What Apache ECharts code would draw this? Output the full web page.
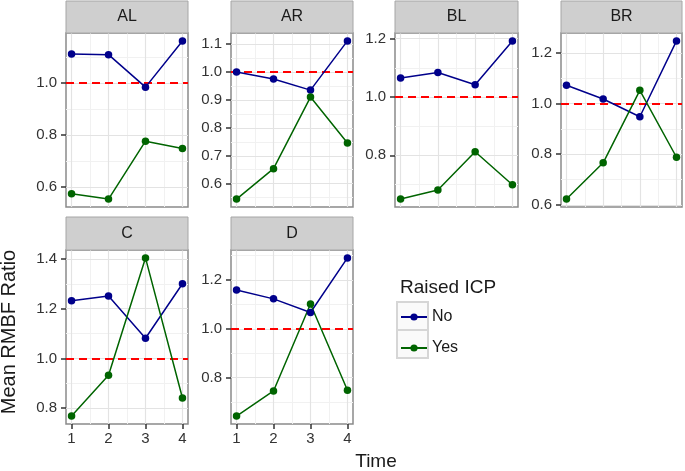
<!DOCTYPE html>
<html><head><meta charset="utf-8">
<script src="https://cdn.jsdelivr.net/npm/echarts@6/dist/echarts.min.js"></script>
<style>html,body{margin:0;padding:0;background:#fff}#c{width:685px;height:471px}</style>
</head><body><div id="c"></div>
<script>
// ---- data ----
const panels = ['AL', 'AR', 'BL', 'BR', 'C', 'D'];
const times = [1, 2, 3, 4];
const noAL = [1.113, 1.110, 0.985, 1.163];
const yesAL = [0.575, 0.554, 0.777, 0.749];
const noAR = [1.000, 0.975, 0.935, 1.111];
const yesAR = [0.545, 0.654, 0.910, 0.746];
const noBL = [1.065, 1.084, 1.042, 1.192];
const yesBL = [0.650, 0.681, 0.812, 0.699];
const noBR = [1.072, 1.018, 0.948, 1.247];
const yesBR = [0.623, 0.766, 1.052, 0.788];
const noC = [1.232, 1.251, 1.081, 1.300];
const yesC = [0.768, 0.932, 1.404, 0.841];
const noD = [1.159, 1.123, 1.067, 1.291];
const yesD = [0.642, 0.745, 1.102, 0.748];
const ticksAL = [0.6, 0.8, 1.0];
const ticksAR = [0.6, 0.7, 0.8, 0.9, 1.0, 1.1];
const ticksBL = [0.8, 1.0, 1.2];
const ticksBR = [0.6, 0.8, 1.0, 1.2];
const ticksC = [0.8, 1.0, 1.2, 1.4];
const ticksD = [0.8, 1.0, 1.2];
const xTicks = [1, 2, 3, 4];
const refLine = 1.0;
const groupNames = ['No', 'Yes'];

const noData = {AL: noAL, AR: noAR, BL: noBL, BR: noBR, C: noC, D: noD};
const yesData = {AL: yesAL, AR: yesAR, BL: yesBL, BR: yesBR, C: yesC, D: yesD};
const tickData = {AL: ticksAL, AR: ticksAR, BL: ticksBL, BR: ticksBR, C: ticksC, D: ticksD};

// ---- layout / style ----
const layout = {
  AL: {left: 66, top: 33, width: 122, height: 174, xlab: false, stripTop: 1},
  AR: {left: 231, top: 33, width: 122, height: 174, xlab: false, stripTop: 1},
  BL: {left: 395, top: 33, width: 123, height: 174, xlab: false, stripTop: 1},
  BR: {left: 561, top: 33, width: 121, height: 174, xlab: false, stripTop: 1},
  C: {left: 66, top: 250, width: 122, height: 174, xlab: true, stripTop: 217},
  D: {left: 231, top: 250, width: 122, height: 174, xlab: true, stripTop: 217}
};
const colNo = '#00008B', colYes = '#006400';
const tickFont = 15;
const FF = 'Liberation Sans, Arial, sans-serif';

function expand(vals) {
  const lo = Math.min(...vals), hi = Math.max(...vals), r = hi - lo;
  return [lo - 0.05 * r, hi + 0.05 * r];
}
function minorOf(t, lo, hi) {
  const step = t.length > 1 ? t[1] - t[0] : 0.2;
  const out = [];
  for (let k = -1; k < t.length; k++) {
    const v = (k < 0 ? t[0] - step / 2 : t[k] + step / 2);
    if (v > lo && v < hi) out.push(+v.toFixed(4));
  }
  return out;
}

const grids = [], xAxes = [], yAxes = [], series = [], graphics = [];
panels.forEach((p, i) => {
  const L = layout[p];
  const yr = expand(noData[p].concat(yesData[p]));
  const xr = expand(times);
  grids.push({left: L.left, top: L.top, width: L.width, height: L.height, show: true,
    borderColor: '#8a8a8a', borderWidth: 1.5, backgroundColor: '#fff', containLabel: false});
  xAxes.push({gridIndex: i, type: 'value', min: xr[0], max: xr[1],
    axisLine: {show: false},
    axisTick: {show: L.xlab, customValues: xTicks, length: 5, lineStyle: {color: '#333', width: 1.5}},
    axisLabel: {show: L.xlab, customValues: xTicks, fontSize: tickFont, color: '#333', margin: 7, fontFamily: FF},
    splitLine: {show: false}});
  yAxes.push({gridIndex: i, type: 'value', min: yr[0], max: yr[1],
    axisLine: {show: false},
    axisTick: {show: true, customValues: tickData[p], length: 5, lineStyle: {color: '#333', width: 1.5}},
    axisLabel: {customValues: tickData[p], formatter: v => v.toFixed(1), fontSize: tickFont, color: '#333', margin: 9, fontFamily: FF},
    splitLine: {show: false}});
  // grid lines
  const major = {color: '#e3e3e3', width: 1.2, type: 'solid'};
  const minor = {color: '#f1f1f1', width: 1, type: 'solid'};
  const gl = [];
  minorOf(xTicks, xr[0], xr[1]).forEach(v => gl.push({xAxis: v, lineStyle: minor}));
  minorOf(tickData[p], yr[0], yr[1]).forEach(v => gl.push({yAxis: v, lineStyle: minor}));
  xTicks.forEach(v => gl.push({xAxis: v, lineStyle: major}));
  tickData[p].forEach(v => gl.push({yAxis: v, lineStyle: major}));
  series.push({type: 'line', xAxisIndex: i, yAxisIndex: i, data: [], z: 1, silent: true,
    markLine: {z: 1, silent: true, symbol: ['none', 'none'], label: {show: false}, animation: false, data: gl}});
  series.push({type: 'line', xAxisIndex: i, yAxisIndex: i, data: [], z: 2, silent: true,
    markLine: {z: 2, silent: true, symbol: ['none', 'none'], label: {show: false}, animation: false,
      data: [{yAxis: refLine}], lineStyle: {color: '#ff0000', width: 2.2, type: [8, 5]}}});
  [[groupNames[0], noData[p], colNo], [groupNames[1], yesData[p], colYes]].forEach(([nm, vals, col]) => {
    series.push({type: 'line', name: nm, xAxisIndex: i, yAxisIndex: i, z: 3,
      data: times.map((t, k) => [t, vals[k]]),
      symbol: 'circle', symbolSize: 7.5, showSymbol: true,
      lineStyle: {color: col, width: 1.5}, itemStyle: {color: col, borderWidth: 0}, animation: false});
  });
  // strip
  graphics.push({type: 'rect', shape: {x: L.left, y: L.stripTop, width: L.width, height: L.top - L.stripTop},
    style: {fill: '#cfcfcf', stroke: '#a6a6a6', lineWidth: 1}, z: 10});
  graphics.push({type: 'text', x: L.left + L.width / 2, y: (L.stripTop + L.top) / 2,
    style: {text: p, fontSize: 16, fill: '#1a1a1a', align: 'center', verticalAlign: 'middle', fontFamily: FF}, z: 11});
});

// legend key boxes
[302, 330].forEach(y => graphics.push({type: 'rect', shape: {x: 397, y: y, width: 31, height: 28},
  style: {fill: '#fafafa', stroke: '#d6d6d6', lineWidth: 2}, z: 5}));
graphics.push({type: 'text', x: 400, y: 288, style: {text: 'Raised ICP', fontSize: 19, fill: '#1a1a1a',
  verticalAlign: 'middle', fontFamily: FF}});
graphics.push({type: 'text', x: 376, y: 462, style: {text: 'Time', fontSize: 19, fill: '#1a1a1a',
  align: 'center', verticalAlign: 'middle', fontFamily: FF}});
graphics.push({type: 'text', x: 9, y: 332, rotation: Math.PI / 2, style: {text: 'Mean RMBF Ratio', fontSize: 20,
  fill: '#1a1a1a', align: 'center', verticalAlign: 'middle', fontFamily: FF}});

const chart = echarts.init(document.getElementById('c'), null, {renderer: 'canvas'});
chart.setOption({
  animation: false,
  backgroundColor: '#fff',
  grid: grids, xAxis: xAxes, yAxis: yAxes, series: series,
  legend: {data: groupNames, orient: 'vertical', left: 395, top: 304, itemWidth: 26, itemHeight: 9, itemGap: 15,
    textStyle: {fontSize: 16, color: '#1a1a1a', fontFamily: FF, lineHeight: 14},
    selectedMode: false, z: 20},
  graphic: graphics
});
</script></body></html>
